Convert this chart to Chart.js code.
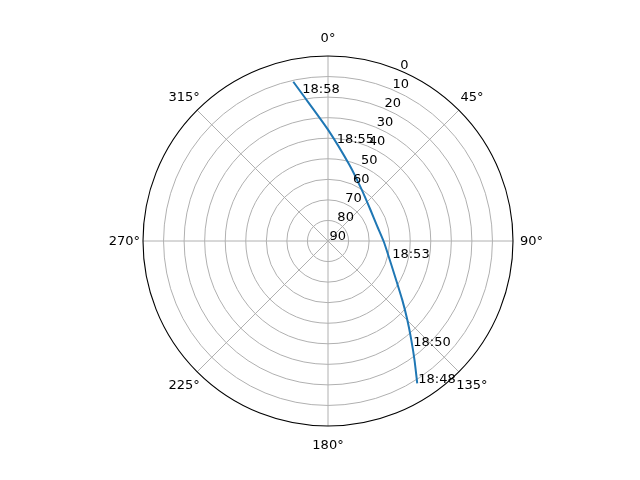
<!DOCTYPE html>
<html>
<head>
<meta charset="utf-8">
<script src="https://cdn.jsdelivr.net/npm/chart.js@4.4.0/dist/chart.umd.min.js"></script>
<style>
html, body { margin: 0; padding: 0; background: #ffffff; }
canvas { display: block; }
</style>
</head>
<body>
<canvas id="c" width="640" height="480"></canvas>
<script>
// Satellite pass track (azimuth in degrees clockwise from north, elevation in degrees)
const azimuths   = [147.9, 144.0, 139.9, 134.9, 128.5, 114.0, 91.0, 73.1, 53.9, 33.5, 15.8, 359.9, 349.9, 347.7];
const elevations = [8.3, 18.4, 27.1, 35.5, 43.8, 55.4, 62.8, 65.0, 64.4, 60.2, 51.6, 35.7, 17.0, 10.7];

// Time annotations along the track
const timeLabels = ['18:48', '18:50', '18:53', '18:55', '18:58'];
const timeAz     = [147.9, 141.4, 105.5, 4.5, 349.7];
const timeEl     = [8.3, 24.3, 58.1, 42.4, 17.3];

// Axis tick labels
const radialTicks = [0, 10, 20, 30, 40, 50, 60, 70, 80, 90];
const angleTicks  = [0, 45, 90, 135, 180, 225, 270, 315];
const radialLabelAngle = 22.5;

function toXY(az, el) {
  const r = 90 - el;
  const a = az * Math.PI / 180;
  return { x: r * Math.sin(a), y: r * Math.cos(a) };
}

const trackPoints = azimuths.map((az, i) => toXY(az, elevations[i]));

const FONT = '13px "DejaVu Sans", sans-serif';

const polarGrid = {
  id: 'polarGrid',
  beforeDatasetsDraw(chart) {
    const ctx = chart.ctx;
    const xs = chart.scales.x, ys = chart.scales.y;
    const cx = xs.getPixelForValue(0), cy = ys.getPixelForValue(0);
    ctx.save();
    ctx.strokeStyle = '#b0b0b0';
    ctx.lineWidth = 1;
    radialTicks.forEach(v => {
      const rv = 90 - v;
      if (rv <= 0 || rv >= 90) return;
      const rp = xs.getPixelForValue(rv) - cx;
      ctx.beginPath();
      ctx.arc(cx, cy, rp, 0, Math.PI * 2);
      ctx.stroke();
    });
    angleTicks.forEach(a => {
      const p = toXY(a, 0);
      ctx.beginPath();
      ctx.moveTo(cx, cy);
      ctx.lineTo(xs.getPixelForValue(p.x), ys.getPixelForValue(p.y));
      ctx.stroke();
    });
    ctx.restore();
  },
  afterDatasetsDraw(chart) {
    const ctx = chart.ctx;
    const xs = chart.scales.x, ys = chart.scales.y;
    const cx = xs.getPixelForValue(0), cy = ys.getPixelForValue(0);
    const R = xs.getPixelForValue(90) - cx;
    ctx.save();
    ctx.strokeStyle = '#000000';
    ctx.lineWidth = 1.1;
    ctx.beginPath();
    ctx.arc(cx, cy, R, 0, Math.PI * 2);
    ctx.stroke();
    ctx.fillStyle = '#000000';
    ctx.font = FONT;
    ctx.textAlign = 'center';
    ctx.textBaseline = 'middle';
    angleTicks.forEach(a => {
      const rad = a * Math.PI / 180;
      const d = R + 18.6;
      ctx.fillText(a + '°', cx + d * Math.sin(rad), cy - d * Math.cos(rad) + 1);
    });
    ctx.textAlign = 'left';
    ctx.textBaseline = 'alphabetic';
    radialTicks.forEach(v => {
      const p = toXY(radialLabelAngle, v);
      const px = xs.getPixelForValue(p.x), py = ys.getPixelForValue(p.y);
      ctx.fillText(String(v), px + 1.5, py - 1);
    });
    timeLabels.forEach((t, i) => {
      const p = toXY(timeAz[i], timeEl[i]);
      const px = xs.getPixelForValue(p.x), py = ys.getPixelForValue(p.y);
      ctx.fillText(t, px + 1, py - 0.5);
    });
    ctx.restore();
  }
};

new Chart(document.getElementById('c'), {
  type: 'scatter',
  data: {
    datasets: [{
      data: trackPoints,
      showLine: true,
      borderColor: '#1f77b4',
      borderWidth: 2,
      pointRadius: 0,
      fill: false,
      tension: 0.2
    }]
  },
  options: {
    responsive: false,
    animation: false,
    devicePixelRatio: 1,
    layout: { padding: { left: 143, right: 127, top: 56, bottom: 54 } },
    plugins: { legend: { display: false }, tooltip: { enabled: false } },
    scales: {
      x: { type: 'linear', min: -90, max: 90, display: false },
      y: { type: 'linear', min: -90, max: 90, display: false }
    }
  },
  plugins: [polarGrid]
});
</script>
</body>
</html>
